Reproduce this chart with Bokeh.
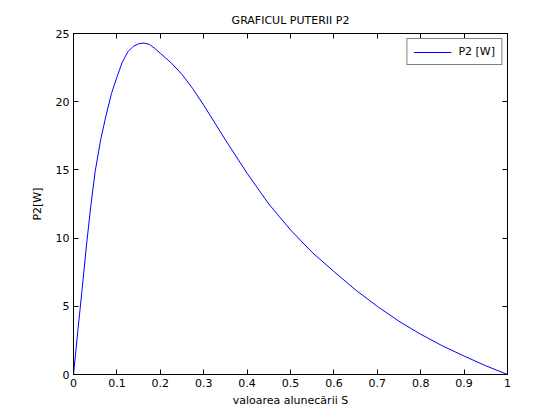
from bokeh.plotting import figure
from bokeh.models import LinearAxis, FixedTicker, Range1d, Legend, LegendItem
from bokeh.embed import file_html
from bokeh.resources import INLINE

# data
s_values = [0, 0.01, 0.02, 0.03, 0.04, 0.05, 0.0625, 0.075, 0.0875, 0.1, 0.1125,
            0.125, 0.1375, 0.15, 0.1625, 0.175, 0.1875, 0.2, 0.225, 0.25, 0.275,
            0.3, 0.35, 0.4, 0.45, 0.5, 0.55, 0.6, 0.65, 0.7, 0.75, 0.8,
            0.85, 0.9, 0.95, 1.0]
p2_values = [0, 3.2, 6.3, 9.5, 12.4, 14.9, 17.2, 19.0, 20.6, 21.8, 22.9,
             23.65, 24.05, 24.25, 24.3, 24.2, 23.9, 23.55, 22.85, 22.0, 20.95,
             19.75, 17.2, 14.75, 12.5, 10.6, 8.95, 7.55, 6.2, 5.0, 3.9, 2.95,
             2.1, 1.35, 0.64, 0]
x_ticks = [0, 0.1, 0.2, 0.3, 0.4, 0.5, 0.6, 0.7, 0.8, 0.9, 1.0]
x_tick_labels = ["0", "0.1", "0.2", "0.3", "0.4", "0.5", "0.6", "0.7", "0.8", "0.9", "1"]
y_ticks = [0, 5, 10, 15, 20, 25]
y_tick_labels = ["0", "5", "10", "15", "20", "25"]

FONT = "DejaVu Sans"

p = figure(width=552, height=412, output_backend="svg", toolbar_location=None,
           x_range=Range1d(0, 1), y_range=Range1d(0, 25),
           min_border_left=73, min_border_right=45, min_border_top=33,
           min_border_bottom=38, x_axis_label="valoarea alunecării S",
           y_axis_label="P2[W]", title="GRAFICUL PUTERII P2")
p.background_fill_color = "white"
p.border_fill_color = "white"
p.outline_line_color = "black"
p.grid.visible = False

p.title.align = "center"
p.title.text_font = FONT
p.title.text_font_size = "11px"
p.title.text_font_style = "normal"
p.title.text_color = "black"
p.title.standoff = 14

r = p.line(s_values, p2_values, line_color="#0000ff", line_width=1)

def style(ax, ticks, labels, show_labels=True):
    ax.ticker = FixedTicker(ticks=ticks)
    if show_labels:
        ax.major_label_overrides = {t: l for t, l in zip(ticks, labels)}
    else:
        ax.major_label_overrides = {t: "" for t in ticks}
    ax.major_tick_in = 5
    ax.major_tick_out = 0
    ax.minor_tick_line_color = None
    ax.axis_line_color = "black"
    ax.major_tick_line_color = "black"
    ax.major_label_text_font = FONT
    ax.major_label_text_font_size = "11px"
    ax.major_label_text_color = "black"
    ax.major_label_standoff = 4
    ax.axis_label_text_font = FONT
    ax.axis_label_text_font_size = "11px"
    ax.axis_label_text_font_style = "normal"
    ax.axis_label_text_color = "black"
    if not show_labels:
        ax.major_label_standoff = 0

style(p.xaxis[0], x_ticks, x_tick_labels)
style(p.yaxis[0], y_ticks, y_tick_labels)
p.xaxis[0].axis_label_standoff = 4
p.yaxis[0].axis_label_standoff = 9

top = LinearAxis()
style(top, x_ticks, x_tick_labels, show_labels=False)
p.add_layout(top, "above")
right = LinearAxis()
style(right, y_ticks, y_tick_labels, show_labels=False)
p.add_layout(right, "right")

legend = Legend(items=[LegendItem(label="P2 [W]", renderers=[r])],
                location="top_right")
legend.border_line_color = "black"
legend.border_line_width = 1
legend.background_fill_color = "white"
legend.label_text_font = FONT
legend.label_text_font_size = "11px"
legend.label_text_color = "black"
legend.glyph_width = 38
legend.glyph_height = 12
legend.label_height = 12
legend.label_standoff = 7
legend.padding = 6
legend.margin = 5
legend.spacing = 0
p.add_layout(legend, "center")

open("out.html", "w").write(file_html(p, INLINE))
